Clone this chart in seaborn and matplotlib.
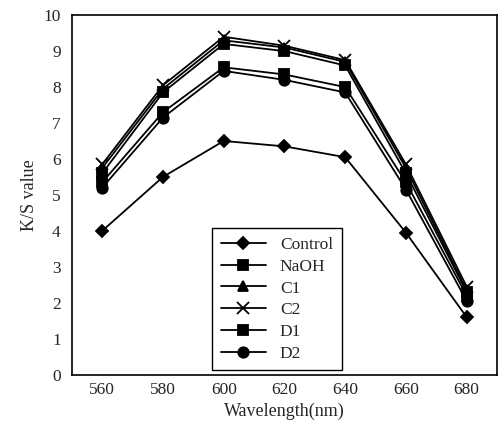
import pandas as pd
import seaborn as sns
import matplotlib.pyplot as plt

sns.set_style("ticks")
plt.rcParams['font.family'] = ['Liberation Serif', 'DejaVu Serif']

# Wavelengths and K/S values
wavelength = [560, 580, 600, 620, 640, 660, 680]
control = [4.0, 5.5, 6.5, 6.35, 6.05, 3.95, 1.6]
naoh = [5.6, 7.85, 9.2, 9.0, 8.6, 5.6, 2.3]
c1 = [5.75, 7.95, 9.3, 9.1, 8.7, 5.75, 2.35]
c2 = [5.85, 8.05, 9.4, 9.15, 8.75, 5.85, 2.45]
d1 = [5.35, 7.3, 8.55, 8.35, 8.0, 5.35, 2.2]
d2 = [5.2, 7.15, 8.45, 8.2, 7.85, 5.15, 2.05]

series = {"Control": control, "NaOH": naoh, "C1": c1, "C2": c2, "D1": d1, "D2": d2}
markers = {"Control": "D", "NaOH": "s", "C1": "^", "C2": "x", "D1": "s", "D2": "o"}
msizes = {"Control": 6, "NaOH": 7.5, "C1": 7.5, "C2": 8, "D1": 7, "D2": 7.5}

fig = plt.figure(figsize=(4.99, 4.46), dpi=100)
ax = fig.add_axes([0.144, 0.16, 0.852, 0.806])

for name, vals in series.items():
    sub = pd.DataFrame({"Wavelength": wavelength, "KS": vals})
    sns.lineplot(data=sub, x="Wavelength", y="KS", color="black", linewidth=1.3,
                 marker=markers[name], markersize=msizes[name],
                 markeredgecolor="black", markerfacecolor="black",
                 markeredgewidth=1.3, label=name, ax=ax)

ax.set_xlim(550, 690)
ax.set_ylim(0, 10)
ax.set_xticks(wavelength)
ax.set_yticks(range(0, 11))
ax.tick_params(length=0, labelsize=12.5)
ax.tick_params(axis="x", pad=5)
ax.tick_params(axis="y", pad=8)
ax.set_xlabel("Wavelength(nm)", fontsize=13, labelpad=4)
ax.set_ylabel("K/S value", fontsize=13, labelpad=4)
for s in ax.spines.values():
    s.set_linewidth(1.2)
    s.set_color("black")

leg = ax.legend(loc="lower left", bbox_to_anchor=(0.33, 0.012), frameon=True,
                fancybox=False, edgecolor="black", framealpha=1, fontsize=12.5,
                handlelength=2.6, borderpad=0.5, labelspacing=0.32,
                borderaxespad=0)
leg.get_frame().set_linewidth(1.0)

fig.savefig("out.png", dpi=100)
